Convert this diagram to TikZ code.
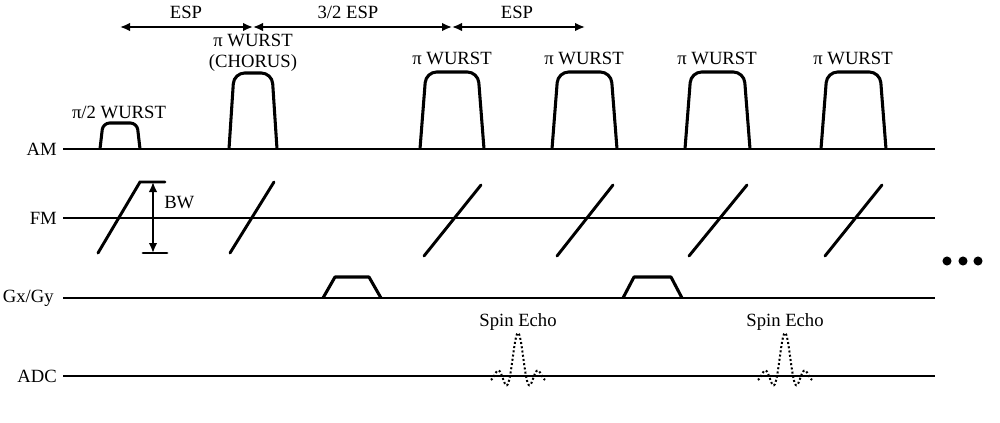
\documentclass[tikz,border=0pt]{standalone}
\usepackage{fontspec}
\setmainfont{Liberation Serif}
\usetikzlibrary{arrows.meta}
\begin{document}
\begin{tikzpicture}[x=0.75pt,y=-0.75pt,
  lbl/.style={font=\fontsize{14}{16}\selectfont, inner sep=0pt},
  axisline/.style={line width=1.5pt},
  pulse/.style={line width=2.3pt, rounded corners=8pt, line join=round},
  sweep/.style={line width=2.2pt, line cap=round},
  dim/.style={line width=1.4pt, {Latex[length=7.5pt,width=6.5pt]}-{Latex[length=7.5pt,width=6.5pt]}},
  grad/.style={line width=2.3pt, line join=round},
  echo/.style={line width=1.5pt, dash pattern=on 1.5pt off 1.7pt}]
\useasboundingbox (0,0) rectangle (1000,422);
% channel labels
\node[lbl, anchor=east] (am) at (57,149) {AM};
\node[lbl, anchor=east] (fm) at (57,218) {FM};
\node[lbl, anchor=east] (gg) at (54,298) {Gx/Gy};
\node[lbl, anchor=east] (adc) at (57,376) {ADC};
% baselines
\coordinate (amS) at (63,149); \coordinate (amE) at (935,149);
\coordinate (fmS) at (63,218); \coordinate (fmE) at (935,218);
\coordinate (ggS) at (63,298); \coordinate (ggE) at (935,298);
\coordinate (adS) at (63,376); \coordinate (adE) at (935,376);
\draw[axisline] (amS) -- (amE);
\draw[axisline] (fmS) -- (fmE);
\draw[axisline] (ggS) -- (ggE);
\draw[axisline] (adS) -- (adE);
% AM pulses
\draw[pulse, rounded corners=5pt] (100,149) -- (103,123) -- (137,123) -- (140,149);
\draw[pulse] (229,149) -- (234,73) -- (272,73) -- (277,149);
\draw[pulse] (420,149) -- (426,72) -- (478,72) -- (484,149);
\draw[pulse] (552,149) -- (558,72) -- (611,72) -- (617,149);
\draw[pulse] (685,149) -- (691,72) -- (744,72) -- (750,149);
\draw[pulse] (821,149) -- (827,72) -- (880,72) -- (886,149);
% pulse labels
\node[lbl] (p90) at (119,112) {π/2 WURST};
\node[lbl] (pc1) at (253,40) {π WURST};
\node[lbl] (pc2) at (253,63) {(CHORUS)};
\node[lbl] (p1) at (452,58) {π WURST};
\node[lbl] (p2) at (584,58) {π WURST};
\node[lbl] (p3) at (717,58) {π WURST};
\node[lbl] (p4) at (853,58) {π WURST};
% ESP arrows
\coordinate (t0) at (120,27); \coordinate (t1) at (253,27);
\coordinate (t2) at (452,27); \coordinate (t3) at (585,27);
\draw[dim] (t0) -- (t1);
\draw[dim] (t1) -- (t2);
\draw[dim] (t2) -- (t3);
\node[lbl] (e1) at (186,12) {ESP};
\node[lbl] (e2) at (348,12) {3/2 ESP};
\node[lbl] (e3) at (517,12) {ESP};
% FM sweeps
\draw[sweep, line join=miter] (98,253) -- (140,182) -- (165,182);
\draw[sweep] (143,253) -- (167,253);
\coordinate (bwT) at (153,182); \coordinate (bwB) at (153,253);
\draw[dim] (bwT) -- (bwB);
\node[lbl, anchor=west] (bw) at (164,203) {BW};
\draw[sweep] (230,253) -- (274,182);
\draw[sweep] (424,256) -- (481,185);
\draw[sweep] (557,256) -- (613,185);
\draw[sweep] (689,256) -- (747,185);
\draw[sweep] (825,256) -- (882,185);
% gradients
\draw[grad] (323,298) -- (335,277) -- (369,277) -- (381,298);
\draw[grad] (623,298) -- (634,277) -- (671,277) -- (682,298);
% spin echoes
\draw[echo] plot[domain=-3.4:3.4, samples=90, smooth] ({518+8*\x},{376-43*sin(180*\x)/(3.14159*\x)});
\draw[echo] plot[domain=-3.4:3.4, samples=90, smooth] ({785+8*\x},{376-43*sin(180*\x)/(3.14159*\x)});
\node[lbl] (s1) at (518,322) {Spin Echo};
\node[lbl] (s2) at (785,322) {Spin Echo};
% continuation dots
\fill (947,261) circle (3.4pt);
\fill (963,261) circle (3.4pt);
\fill (978,261) circle (3.4pt);
\end{tikzpicture}
\end{document}
